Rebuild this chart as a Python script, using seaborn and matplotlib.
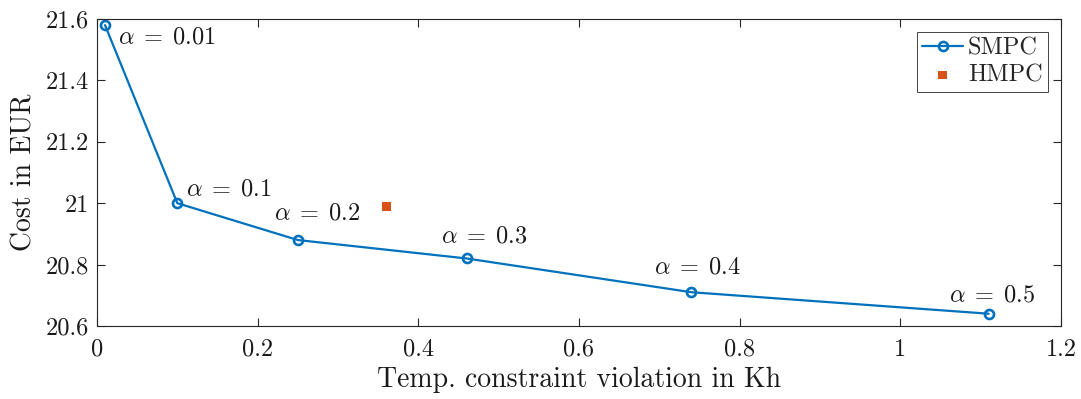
import matplotlib
matplotlib.use("Agg")
import matplotlib.pyplot as plt
import seaborn as sns
import pandas as pd
from matplotlib.ticker import FuncFormatter

# Data
smpc_violation = [0.01, 0.10, 0.25, 0.46, 0.74, 1.11]
smpc_cost = [21.58, 21.00, 20.88, 20.82, 20.71, 20.64]
alpha_labels = ["0.01", "0.1", "0.2", "0.3", "0.4", "0.5"]
hmpc_violation = [0.36]
hmpc_cost = [20.99]

sns.set_style("ticks")
plt.rcParams["font.family"] = ["serif"]
plt.rcParams["font.serif"] = ["cmr10", "DejaVu Serif"]
plt.rcParams["mathtext.fontset"] = "cm"
plt.rcParams["axes.formatter.use_mathtext"] = True
plt.rcParams["axes.unicode_minus"] = False

fig = plt.figure(figsize=(10.81, 3.99), dpi=100)
ax = fig.add_axes([97 / 1081, 1 - 326 / 399, (1061 - 97) / 1081, (326 - 19) / 399])

df_s = pd.DataFrame({"x": smpc_violation, "y": smpc_cost})
df_h = pd.DataFrame({"x": hmpc_violation, "y": hmpc_cost})

sns.lineplot(data=df_s, x="x", y="y", ax=ax, color="#0072BD", linewidth=1.6,
             marker="o", markersize=6.5, markerfacecolor="none",
             markeredgecolor="#0072BD", markeredgewidth=1.9, label="SMPC",
             sort=False)
sns.scatterplot(data=df_h, x="x", y="y", ax=ax, color="#D95319", marker="s",
                s=40, edgecolor="none", label="HMPC")

offsets = [(13, -12, "left"), (9, 14, "left"), (20, 27, "center"),
           (18, 22, "center"), (6, 25, "center"), (4, 18, "center")]
for xv, yv, lab, (dx, dy, ha) in zip(smpc_violation, smpc_cost, alpha_labels, offsets):
    ax.annotate(r"$\alpha\;=\;" + lab + "$", xy=(xv, yv), xytext=(dx, dy),
                textcoords="offset pixels", ha=ha, va="center", fontsize=17.5,
                color="#1a1a1a")

ax.set_xlim(0, 1.2)
ax.set_ylim(20.6, 21.6)
ax.set_xticks([0, 0.2, 0.4, 0.6, 0.8, 1.0, 1.2])
ax.set_yticks([20.6, 20.8, 21.0, 21.2, 21.4, 21.6])
fmt = FuncFormatter(lambda v, p: "%g" % round(v, 6))
ax.xaxis.set_major_formatter(fmt)
ax.yaxis.set_major_formatter(fmt)

for s in ax.spines.values():
    s.set_visible(True)
    s.set_color("#262626")
    s.set_linewidth(0.8)
ax.tick_params(direction="in", top=True, right=True, length=6, width=0.8,
               labelsize=17.5, colors="#262626", labelcolor="#1a1a1a")
ax.tick_params(axis="x", pad=9)
ax.tick_params(axis="y", pad=6)

ax.set_xlabel("Temp. constraint violation in Kh", fontsize=20, color="#1a1a1a", labelpad=4)
ax.set_ylabel("Cost in EUR", fontsize=20, color="#1a1a1a", labelpad=6)

leg = ax.legend(loc="upper right", fontsize=17.5, frameon=True, fancybox=False,
                framealpha=1, edgecolor="#262626", handlelength=1.7,
                bbox_to_anchor=(1 - 13 / 964, 1 - 13 / 307),
                borderaxespad=0.0, borderpad=0.22, labelspacing=0.2,
                handletextpad=0.2)
leg.get_frame().set_linewidth(0.6)

fig.savefig("out.png", dpi=100)
